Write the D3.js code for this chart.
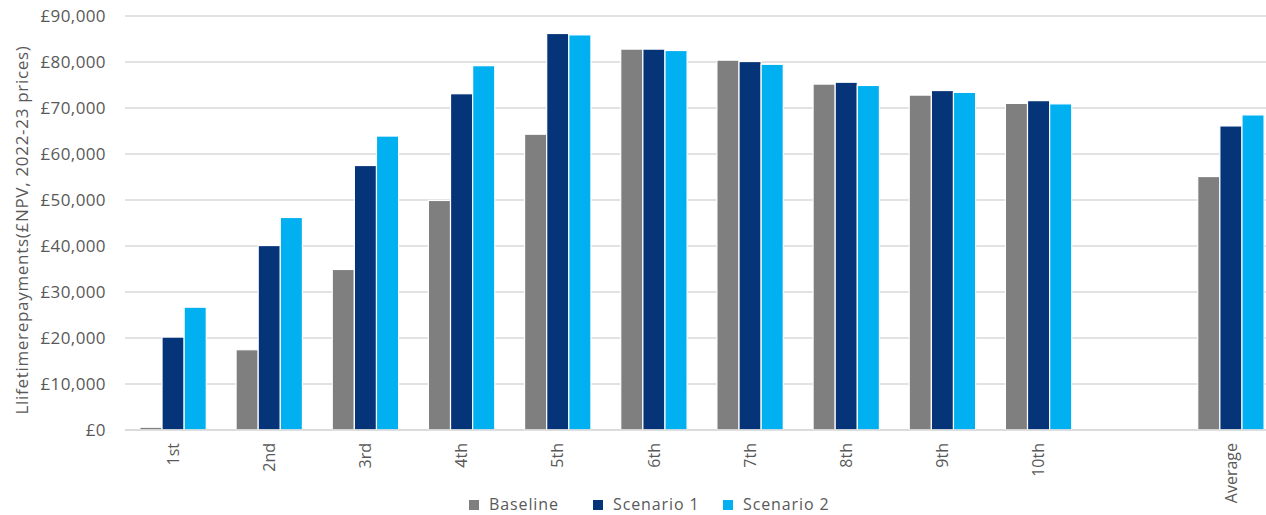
<!DOCTYPE html>
<html>
<head>
<meta charset="utf-8">
<script src="https://cdn.jsdelivr.net/npm/d3@7"></script>
<style>
  html, body { margin: 0; padding: 0; background: #ffffff; }
  svg { display: block; }
  text { font-family: "Open Sans", Lato, sans-serif; fill: #595959; }
</style>
</head>
<body>
<svg id="chart" width="1266" height="515"></svg>
<script>
// Income deciles plus an overall average; the blank slot separates them.
const categories = ["1st", "2nd", "3rd", "4th", "5th", "6th", "7th", "8th", "9th", "10th", "", "Average"];
const seriesNames = ["Baseline", "Scenario 1", "Scenario 2"];
const seriesColors = ["#7f7f7f", "#063478", "#00b0f0"];

// Lifetime repayments, £ NPV in 2022-23 prices
const baseline  = [600, 17450, 34900, 49900, 64300, 82800, 80400, 75200, 72800, 71000, null, 55100];
const scenario1 = [20200, 40100, 57500, 73100, 86200, 82800, 80100, 75600, 73800, 71600, null, 66100];
const scenario2 = [26700, 46200, 63900, 79200, 85900, 82500, 79500, 74900, 73400, 70900, null, 68500];

const yTicks = [0, 10000, 20000, 30000, 40000, 50000, 60000, 70000, 80000, 90000];
const yTitle = "Llifetimerepayments(£NPV, 2022-23 prices)";

const seriesValues = [baseline, scenario1, scenario2];

const svg = d3.select("#chart");
const plot = { left: 125, right: 1279, top: 16, bottom: 430 };

const x = d3.scaleBand()
  .domain(d3.range(categories.length))
  .range([plot.left, plot.right])
  .paddingInner(0.31)
  .paddingOuter(0.155);

const xs = d3.scaleBand()
  .domain(d3.range(seriesNames.length))
  .range([0, x.bandwidth()]);

const y = d3.scaleLinear()
  .domain([0, 90000])
  .range([plot.bottom, plot.top]);

const fmt = v => "£" + d3.format(",")(v);

// Horizontal gridlines
svg.append("g")
  .selectAll("line")
  .data(yTicks)
  .join("line")
  .attr("x1", plot.left)
  .attr("x2", 1266)
  .attr("y1", d => y(d))
  .attr("y2", d => y(d))
  .attr("stroke", "#d9d9d9")
  .attr("stroke-width", 1.3);

// Y axis labels
const yAxis = svg.append("g")
  .attr("transform", `translate(${plot.left},0)`)
  .call(d3.axisLeft(y).tickValues(yTicks).tickFormat(fmt).tickSize(0).tickPadding(19));
yAxis.select(".domain").remove();
yAxis.selectAll("text")
  .style("font-size", "17px")
  .style("letter-spacing", "0.4px")
  .style("fill", "#595959");

// Bars
const groups = svg.append("g")
  .selectAll("g")
  .data(seriesValues)
  .join("g")
  .attr("fill", (d, i) => seriesColors[i]);

groups.each(function(values, si) {
  d3.select(this).selectAll("rect")
    .data(values.map((v, ci) => ({ v, ci })).filter(d => d.v !== null))
    .join("rect")
    .attr("x", d => x(d.ci) + xs(si))
    .attr("width", xs.bandwidth())
    .attr("y", d => y(d.v))
    .attr("height", d => y(0) - y(d.v))
    .attr("stroke", "#ffffff")
    .attr("stroke-width", 1.2);
});

// Baseline axis line
svg.append("line")
  .attr("x1", plot.left)
  .attr("x2", 1266)
  .attr("y1", y(0))
  .attr("y2", y(0))
  .attr("stroke", "#d9d9d9")
  .attr("stroke-width", 1.5);

// Category labels, rotated
const xAxis = svg.append("g")
  .attr("transform", `translate(0,${plot.bottom})`)
  .call(d3.axisBottom(x).tickFormat(i => categories[i]).tickSize(0).tickPadding(0));
xAxis.select(".domain").remove();
xAxis.selectAll("text")
  .style("font-size", "16px")
  .style("fill", "#595959")
  .attr("text-anchor", "end")
  .attr("dy", "0.35em")
  .attr("transform", "translate(0,13) rotate(-90)")
  .attr("x", 0)
  .attr("y", 0);

// Y axis title
svg.append("text")
  .attr("transform", `translate(22,${(plot.top + plot.bottom) / 2 + 7}) rotate(-90)`)
  .attr("text-anchor", "middle")
  .attr("dy", "0.35em")
  .style("font-size", "17px")
  .style("letter-spacing", "0.7px")
  .text(yTitle);

// Legend
const legendItems = [
  { name: seriesNames[0], color: seriesColors[0], x: 469 },
  { name: seriesNames[1], color: seriesColors[1], x: 593 },
  { name: seriesNames[2], color: seriesColors[2], x: 723 }
];
const legend = svg.append("g").attr("transform", "translate(0,504)");
const li = legend.selectAll("g")
  .data(legendItems)
  .join("g")
  .attr("transform", d => `translate(${d.x},0)`);
li.append("rect")
  .attr("x", 0)
  .attr("y", -4)
  .attr("width", 10)
  .attr("height", 10)
  .attr("fill", d => d.color);
li.append("text")
  .attr("x", 20)
  .attr("dy", "0.38em")
  .style("font-size", "16px")
  .style("letter-spacing", "0.9px")
  .text(d => d.name);
</script>
</body>
</html>
